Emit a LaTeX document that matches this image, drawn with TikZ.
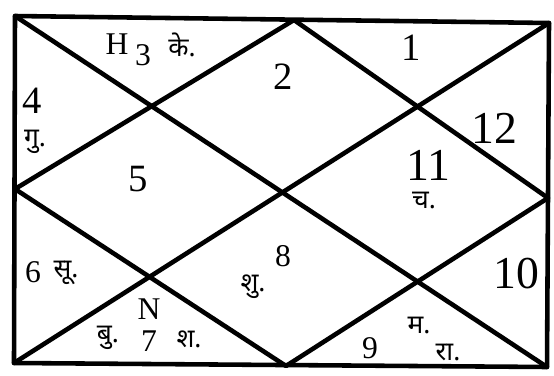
\documentclass[tikz,border=0pt]{standalone}
\usepackage{fontspec}
\setmainfont{Liberation Serif}
\newfontfamily\deva[Script=Devanagari]{Noto Sans}
\usepackage{tikz}
\usetikzlibrary{positioning}

\begin{document}
\begin{tikzpicture}[
            x=0.02cm, y=-0.02cm,
            rule/.style={line width=2.6pt, line cap=round, line join=round},
            num/.style={font=\fontsize{22}{22}\selectfont, inner sep=0pt},
            bignum/.style={font=\fontsize{26}{26}\selectfont, inner sep=0pt},
            smallnum/.style={font=\fontsize{18}{18}\selectfont, inner sep=0pt},
            grah/.style={font=\deva\fontsize{15}{15}\selectfont, inner sep=0pt}]

            \useasboundingbox (0,0) rectangle (554,375);

            %% ── Frame points ──────────────────────────────────────────────
            \coordinate (tl) at (15,16);
            \coordinate (tr) at (549,23);
            \coordinate (br) at (547,367);
            \coordinate (bl) at (14,363);
            \coordinate (tm) at (294,20);
            \coordinate (rm) at (548,198);
            \coordinate (bm) at (286,366);
            \coordinate (lm) at (15,189);

            %% ── Lines ─────────────────────────────────────────────────────
            \draw[rule] (tl) -- (tr) -- (br) -- (bl) -- cycle;
            \draw[rule] (tl) -- (br);
            \draw[rule] (tr) -- (bl);
            \draw[rule] (tm) -- (rm) -- (bm) -- (lm) -- cycle;

            %% ── Signs ─────────────────────────────────────────────────────
            \node[num]      (s2)  at (283,77)  {2};
            \node[smallnum] (s3)  at (143,55)  {3};
            \node[num]      (s4)  at (32,101)  {4};
            \node[num]      (s5)  at (138,179) {5};
            \node[smallnum] (s6)  at (33,272)  {6};
            \node[smallnum] (s7)  at (149,341) {7};
            \node[smallnum] (s8)  at (283,256) {8};
            \node[smallnum] (s9)  at (370,348) {9};
            \node[bignum]   (s10) at (516,274) {10};
            \node[bignum]   (s11) at (428,165) {11};
            \node[num]      (s1)  at (411,48)  {1};
            \node[bignum]   (s12) at (494,128) {12};

            %% ── Planets ───────────────────────────────────────────────────
            \node[smallnum] (her)  at (117,44)  {H};
            \node[grah]     (ketu) at (182,45)  {के.};
            \node[grah]     (guru) at (35,142)  {गु.};
            \node[grah]     (chan) at (424,200) {च.};
            \node[grah]     (surya) at (66,273) {सू.};
            \node[smallnum] (nep)  at (149,309) {N};
            \node[grah]     (budh) at (108,338) {बु.};
            \node[grah]     (shani) at (189,339) {श.};
            \node[grah]     (shuk) at (253,287) {शु.};
            \node[grah]     (mang) at (419,325) {म.};
            \node[grah]     (rahu) at (448,352) {रा.};

        \end{tikzpicture}
\end{document}
